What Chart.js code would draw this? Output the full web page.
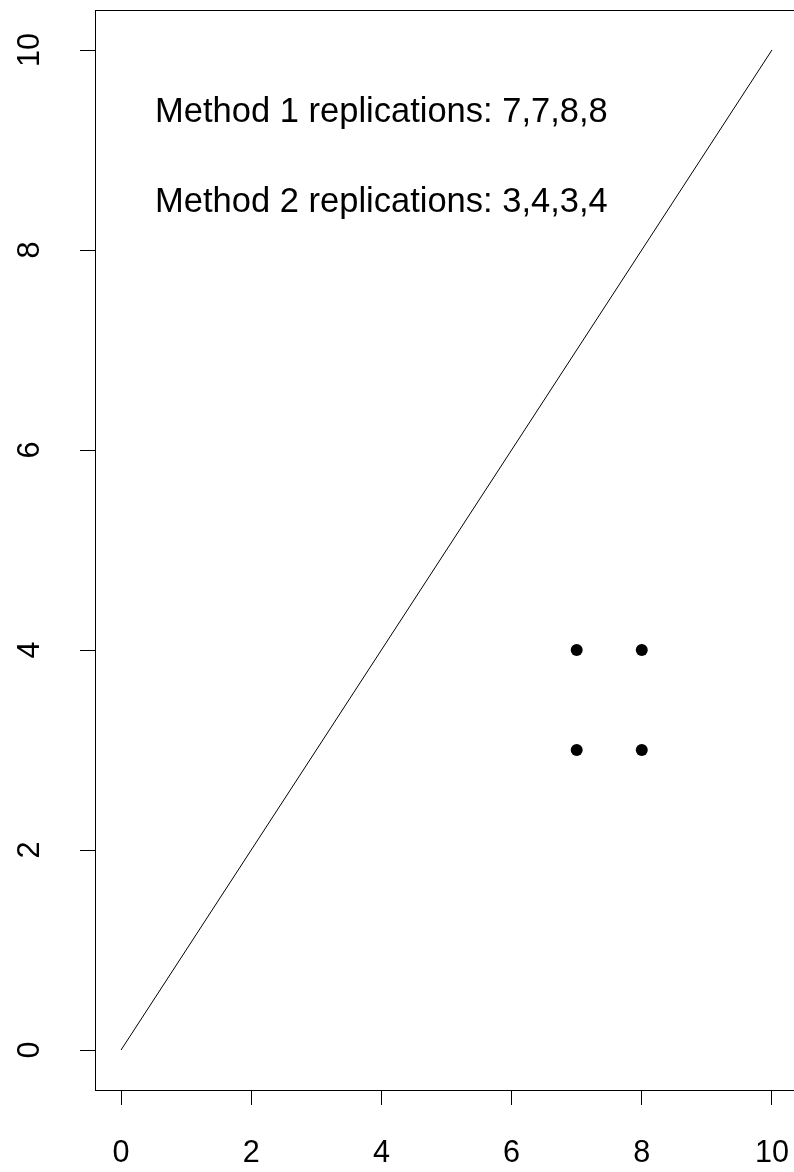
<!DOCTYPE html>
<html>
<head>
<meta charset="utf-8">
<script src="https://cdn.jsdelivr.net/npm/chart.js@4"></script>
<style>
  html, body { margin: 0; padding: 0; background: #fff; overflow: hidden; width: 794px; height: 1172px; }
  #wrap { position: relative; width: 804px; height: 1172px; }
  canvas { display: block; width: 804px; height: 1172px; }
</style>
</head>
<body>
<div id="wrap"><canvas id="c" width="804" height="1172"></canvas></div>
<script>
// Replicate measurements: method 1 on x, method 2 on y
const method1 = [7, 7, 8, 8];
const method2 = [3, 4, 3, 4];

// Identity line endpoints
const identityX = [0, 10];
const identityY = [0, 10];

// Tick values shared by both axes
const tickValues = [0, 2, 4, 6, 8, 10];

// Annotation lines
const noteTexts = [
  'Method 1 replications: ' + method1.join(','),
  'Method 2 replications: ' + method2.join(',')
];
const noteX = [4, 4];
const noteY = [9.4, 8.5];

const FONT = '"Liberation Sans", Arial, Helvetica, sans-serif';

const boxPlugin = {
  id: 'box',
  afterDraw(chart) {
    const { ctx, chartArea: a } = chart;
    ctx.save();
    ctx.strokeStyle = '#000';
    ctx.lineWidth = 1;
    ctx.strokeRect(Math.round(a.left) + 0.5, Math.round(a.top) + 0.5,
                   Math.round(a.right - a.left), Math.round(a.bottom - a.top));
    ctx.restore();
  }
};

const notePlugin = {
  id: 'notes',
  afterDatasetsDraw(chart) {
    const { ctx, scales } = chart;
    const size = 34.5;
    ctx.save();
    ctx.fillStyle = '#000';
    ctx.font = size + 'px ' + FONT;
    ctx.textAlign = 'center';
    ctx.textBaseline = 'alphabetic';
    noteTexts.forEach((t, i) => {
      const px = scales.x.getPixelForValue(noteX[i]);
      const py = scales.y.getPixelForValue(noteY[i]);
      ctx.fillText(t, px, py + size * 0.358);
    });
    ctx.restore();
  }
};

const setTicks = scale => { scale.ticks = tickValues.map(v => ({ value: v })); };
const noPad = s => { s.paddingTop = 0; s.paddingBottom = 0; s.paddingLeft = 0; s.paddingRight = 0; };

new Chart(document.getElementById('c'), {
  type: 'scatter',
  data: {
    datasets: [
      {
        type: 'line',
        data: identityX.map((x, i) => ({ x, y: identityY[i] })),
        borderColor: '#000',
        borderWidth: 1,
        pointRadius: 0,
        fill: false
      },
      {
        data: method1.map((x, i) => ({ x, y: method2[i] })),
        backgroundColor: '#000',
        borderColor: '#000',
        borderWidth: 0,
        pointRadius: 6
      }
    ]
  },
  options: {
    responsive: false,
    animation: false,
    devicePixelRatio: 1,
    layout: { padding: { top: 10, right: 3, left: 0, bottom: 0 } },
    plugins: { legend: { display: false }, title: { display: false }, tooltip: { enabled: false } },
    scales: {
      x: {
        type: 'linear',
        min: -0.4,
        max: 10.4,
        afterBuildTicks: setTicks,
        afterFit: s => { s.height = 82; noPad(s); },
        border: { display: false },
        grid: { display: true, drawOnChartArea: false, drawTicks: true, tickLength: 15, color: '#000', lineWidth: 1 },
        ticks: { color: '#000', font: { family: FONT, size: 30.6 }, padding: 30, maxRotation: 0, minRotation: 0 }
      },
      y: {
        type: 'linear',
        min: -0.4,
        max: 10.4,
        afterBuildTicks: setTicks,
        afterFit: s => { s.width = 95; noPad(s); },
        border: { display: false },
        grid: { display: true, drawOnChartArea: false, drawTicks: true, tickLength: 15, color: '#000', lineWidth: 1 },
        ticks: { color: '#000', font: { family: FONT, size: 30.6 }, padding: 32, minRotation: 90, maxRotation: 90, crossAlign: 'center' }
      }
    }
  },
  plugins: [boxPlugin, notePlugin]
});
</script>
</body>
</html>
